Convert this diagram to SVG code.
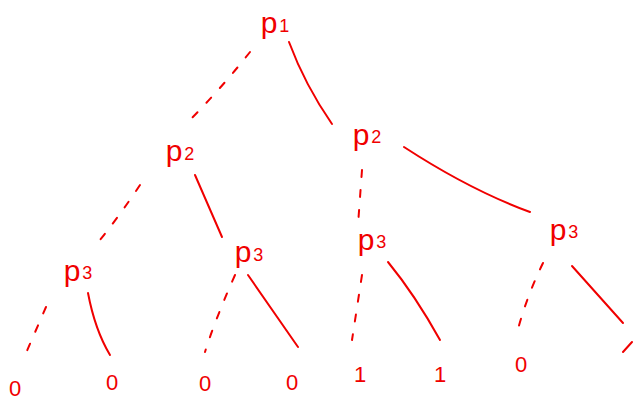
<svg xmlns="http://www.w3.org/2000/svg" width="633" height="403" viewBox="0 0 633 403">
<style>
.lbl{font-family:"Liberation Sans",Arial,sans-serif;font-size:30px;fill:#f00000;text-anchor:middle}
.sub{font-size:18px}
.leaf{font-family:"Liberation Sans",Arial,sans-serif;font-size:22px;fill:#f00000;text-anchor:middle}
.e{fill:none;stroke:#f00000;stroke-width:2;stroke-linecap:round}
.d{stroke-dasharray:7 13}
</style>
<rect width="633" height="403" fill="#fff"/>
<g id="connectors">
<path class="e d" d="M250,52 Q220,90 185,125"/>
<path class="e" d="M289,42 Q305,85 332,124"/>
<path class="e d" d="M140,185 Q120,215 100,240"/>
<path class="e" d="M195,175 L222,237"/>
<path class="e d" d="M362,170 L358,225"/>
<path class="e" d="M404,147 Q470,190 530,212"/>
<path class="e d" d="M46,307 L23,360"/>
<path class="e" d="M88,293 Q95,330 110,355"/>
<path class="e d" d="M235,275 Q215,320 205,352"/>
<path class="e" d="M248,275 L298,347"/>
<path class="e d" d="M362,275 L352,340"/>
<path class="e" d="M388,262 Q415,295 440,340"/>
<path class="e d" d="M543,263 Q525,300 516,337"/>
<path class="e" d="M572,266 L623,323"/>
<path class="e" d="M632,342 L623,352"/>
</g>
<g id="n_p1"><text class="lbl" x="275" y="33">p<tspan class="sub" dx="2" dy="-1">1</tspan></text></g>
<g id="n_p2a"><text class="lbl" x="180" y="161">p<tspan class="sub" dx="2" dy="-1">2</tspan></text></g>
<g id="n_p2b"><text class="lbl" x="367" y="145">p<tspan class="sub" dx="2" dy="-2">2</tspan></text></g>
<g id="n_p3a"><text class="lbl" x="78" y="281">p<tspan class="sub" dx="2" dy="-2">3</tspan></text></g>
<g id="n_p3b"><text class="lbl" x="249" y="262">p<tspan class="sub" dx="2" dy="-1">3</tspan></text></g>
<g id="n_p3c"><text class="lbl" x="372" y="250">p<tspan class="sub" dx="2" dy="-2">3</tspan></text></g>
<g id="n_p3d"><text class="lbl" x="564" y="240">p<tspan class="sub" dx="2" dy="-2">3</tspan></text></g>
<g id="l1"><text class="leaf" x="15" y="396">0</text></g>
<g id="l2"><text class="leaf" x="112" y="390">0</text></g>
<g id="l3"><text class="leaf" x="205" y="391">0</text></g>
<g id="l4"><text class="leaf" x="292" y="390">0</text></g>
<g id="l5"><text class="leaf" x="360" y="382">1</text></g>
<g id="l6"><text class="leaf" x="440" y="382">1</text></g>
<g id="l7"><text class="leaf" x="521" y="372">0</text></g>
</svg>
